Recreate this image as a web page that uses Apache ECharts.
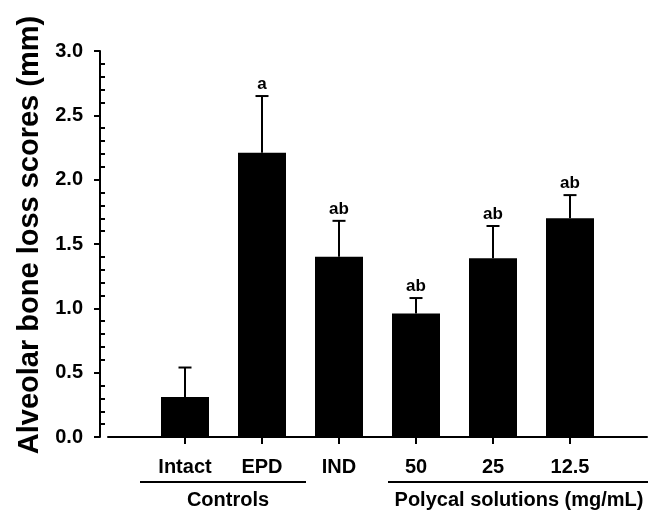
<!DOCTYPE html>
<html>
<head>
<meta charset="utf-8">
<script src="https://cdn.jsdelivr.net/npm/echarts@6/dist/echarts.min.js"></script>
<style>
  html, body { margin: 0; padding: 0; background: #fff; }
  #chart { width: 655px; height: 510px; }
</style>
</head>
<body>
<div id="chart"></div>
<script>
  // groups along the x axis
  var categories = ['Intact', 'EPD', 'IND', '50', '25', '12.5'];
  // mean scores (mm) and top of the error bar
  var means = [0.31, 2.21, 1.40, 0.96, 1.39, 1.70];
  var upper = [0.54, 2.65, 1.68, 1.08, 1.64, 1.88];
  // significance letters
  var letters = ['', 'a', 'ab', 'ab', 'ab', 'ab'];
  var yTicks = [0, 3, 0.5];

  var font = "'Liberation Sans', Arial, sans-serif";

  // padding slot on each side so the bars sit at 1..6 on a 0..7 axis
  var axisData = [''].concat(categories).concat(['']);
  var barData = [null].concat(means).concat([null]);
  var errData = [];
  for (var i = 0; i < categories.length; i++) {
    errData.push([i + 1, means[i], upper[i], letters[i]]);
  }

  var myChart = echarts.init(document.getElementById('chart'));
  var option = {
    backgroundColor: '#fff',
    animation: false,
    grid: { left: 108, right: 8, top: 51, bottom: 73 },
    xAxis: {
      type: 'category',
      data: axisData,
      boundaryGap: false,
      axisLine: { lineStyle: { color: '#000', width: 2 } },
      axisTick: {
        length: 7,
        lineStyle: { color: '#000', width: 2 },
        interval: function (idx, val) { return val !== ''; }
      },
      axisLabel: {
        margin: 20,
        color: '#000',
        fontFamily: font,
        fontWeight: 'bold',
        fontSize: 20,
        interval: function (idx, val) { return val !== ''; }
      },
      splitLine: { show: false }
    },
    yAxis: [{
      type: 'value',
      min: yTicks[0],
      max: yTicks[1],
      interval: yTicks[2],
      offset: 8,
      name: 'Alveolar bone loss scores (mm)',
      nameLocation: 'middle',
      nameGap: 55,
      nameTextStyle: {
        color: '#000', fontFamily: font, fontWeight: 'bold', fontSize: 29,
        padding: [0, 0, 0, 18]
      },
      axisLine: { show: true, lineStyle: { color: '#000', width: 2 } },
      axisTick: { show: true, length: 6, lineStyle: { color: '#000', width: 2 } },
      axisLabel: {
        margin: 17,
        color: '#000',
        fontFamily: font,
        fontWeight: 'bold',
        fontSize: 20,
        formatter: function (v) { return v.toFixed(1); }
      },
      splitLine: { show: false }
    }, {
      // minor ticks point into the plot, so they get their own axis
      type: 'value',
      min: yTicks[0],
      max: yTicks[1],
      interval: yTicks[2],
      offset: 8,
      position: 'left',
      axisLine: { show: false },
      axisTick: { show: false, inside: true },
      minorTick: { show: true, splitNumber: 5, length: 5, lineStyle: { color: '#000', width: 2 } },
      axisLabel: { show: false },
      splitLine: { show: false }
    }],
    series: [{
      type: 'bar',
      data: barData,
      barWidth: 48,
      itemStyle: { color: '#000' }
    }, {
      type: 'custom',
      data: errData,
      z: 3,
      renderItem: function (params, api) {
        var x = api.value(0);
        var top = api.coord([x, api.value(1)]);
        var hi = api.coord([x, api.value(2)]);
        var lineStyle = { stroke: '#000', lineWidth: 2 };
        return {
          type: 'group',
          children: [{
            type: 'line',
            shape: { x1: top[0], y1: top[1], x2: hi[0], y2: hi[1] },
            style: lineStyle
          }, {
            type: 'line',
            shape: { x1: hi[0] - 6.5, y1: hi[1], x2: hi[0] + 6.5, y2: hi[1] },
            style: lineStyle
          }, {
            type: 'text',
            x: hi[0],
            y: hi[1] - 3,
            style: {
              text: api.value(3),
              fill: '#000',
              font: 'bold 17px ' + font,
              textAlign: 'center',
              textVerticalAlign: 'bottom'
            }
          }]
        };
      }
    }],
    graphic: [
      { type: 'line', shape: { x1: 140, y1: 482, x2: 306, y2: 482 }, style: { stroke: '#000', lineWidth: 2 } },
      { type: 'line', shape: { x1: 388, y1: 482, x2: 648, y2: 482 }, style: { stroke: '#000', lineWidth: 2 } },
      { type: 'text', x: 228, y: 500, style: { text: 'Controls', fill: '#000', font: 'bold 20px ' + font, textAlign: 'center', textVerticalAlign: 'middle' } },
      { type: 'text', x: 519, y: 500, style: { text: 'Polycal solutions (mg/mL)', fill: '#000', font: 'bold 20px ' + font, textAlign: 'center', textVerticalAlign: 'middle' } }
    ]
  };
  myChart.setOption(option);
</script>
</body>
</html>
